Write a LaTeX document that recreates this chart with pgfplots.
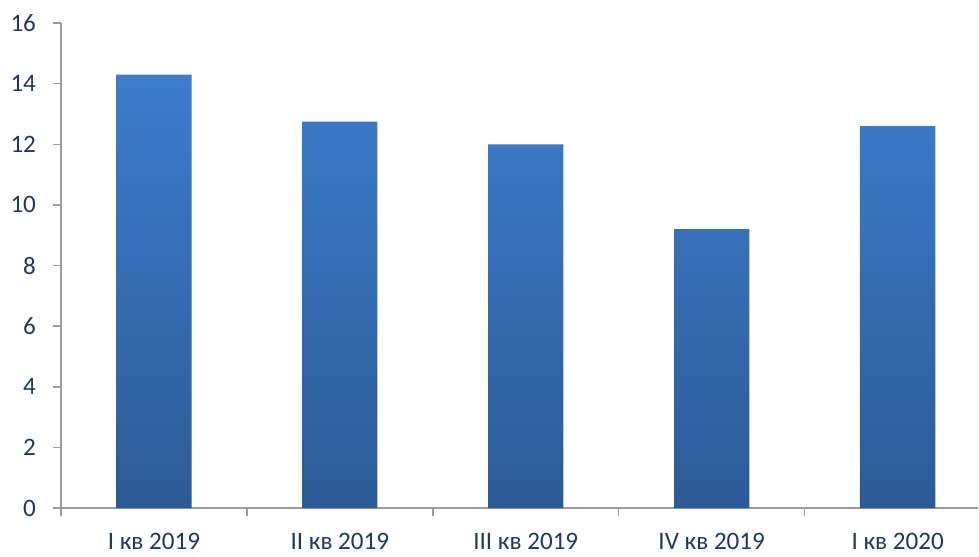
\documentclass[border=0pt]{standalone}
\usepackage{fontspec}
\setmainfont{Carlito}
\usepackage{pgfplots}
\pgfplotsset{compat=1.18}
\definecolor{barTop}{RGB}{60,125,204}
\definecolor{barBot}{RGB}{45,90,150}
\definecolor{txt}{RGB}{31,56,100}
\definecolor{axgray}{RGB}{155,155,155}
\begin{document}
\begin{tikzpicture}
\begin{axis}[
  at={(0,0)}, anchor=south west,
  scale only axis,
  width=459bp, height=242.75bp,
  xmin=-0.5, xmax=4.434,
  ymin=0, ymax=16,
  ytick={0,2,...,16},
  axis x line*=bottom, axis y line*=left,
  axis line style={draw=axgray, line width=0.7bp, -},
  tick style={draw=axgray, line width=0.7bp},
  tick align=outside,
  major tick length=4bp,
  xtick={-0.5,0.5,1.5,2.5,3.5},
  xticklabels={},
  extra x ticks={0,1,2,3,4},
  extra x tick labels={I кв 2019,II кв 2019,III кв 2019,IV кв 2019,I кв 2020},
  extra x tick style={major tick length=0pt, tick label style={yshift=-9bp}},
  ticklabel style={font=\fontsize{12.6}{14}\selectfont, text=txt},
  yticklabel style={xshift=-5bp},
  /pgf/number format/assume math mode=true,
  clip=false,
]
\addplot[ybar, bar width=0.405, draw=none, top color=barTop, bottom color=barBot]
  coordinates {(0,14.3) (1,12.75) (2,12.0) (3,9.2) (4,12.6)};
\end{axis}
\path[use as bounding box] (-30.5bp,-22.75bp) rectangle (459bp,254.25bp);
\end{tikzpicture}
\end{document}
